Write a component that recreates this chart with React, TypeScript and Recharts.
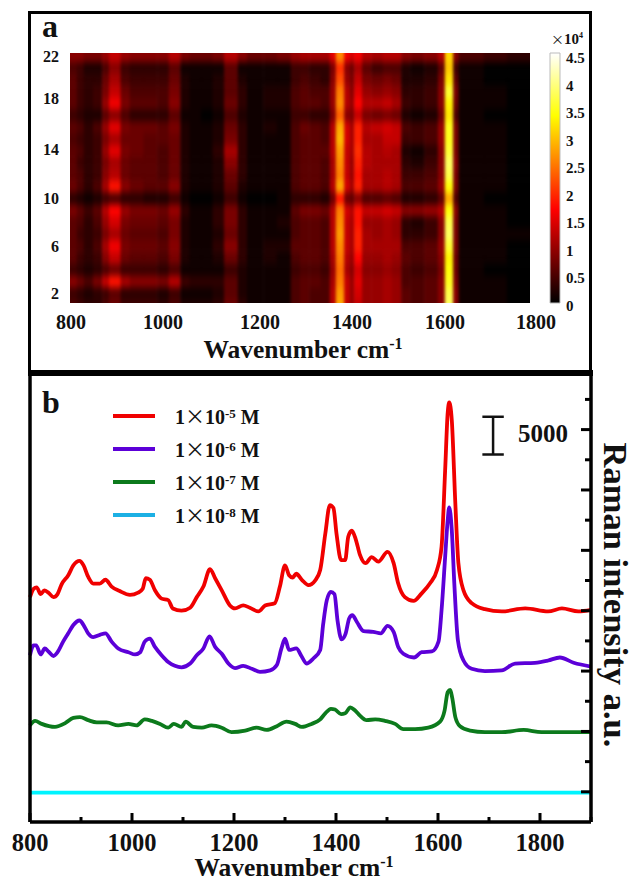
import { Bar, BarChart, Legend, Line, LineChart, ReferenceLine, Scatter, ScatterChart, XAxis, YAxis } from "recharts";

const FONT = "'Liberation Serif', serif";
const INK = "#111";

// panel a: column edges in cm-1, rows of intensity in units of 1000 counts
const heatEdges = [800, 815, 830, 850, 870, 885, 910, 930, 960, 990, 1015, 1040, 1060, 1085, 1110, 1135, 1165, 1185, 1220, 1250, 1280, 1300, 1320, 1345, 1365, 1378, 1396, 1408, 1418, 1435, 1455, 1480, 1500, 1520, 1540, 1570, 1600, 1615, 1633, 1645, 1700, 1750, 1800];
const row1 = [5, 4, 3, 3, 5, 7, 4, 4, 4, 3, 5, 2, 2, 2, 3, 7, 3, 1, 1, 1, 5, 6, 5, 5, 12, 28, 13, 10, 13, 10, 10, 11, 10, 6, 5, 6, 9, 38, 9, 1, 1, 0];
const row2 = [4, 3, 2, 3, 4, 6, 3, 3, 3, 2, 4, 1, 1, 1, 2, 6, 2, 1, 1, 1, 5, 6, 5, 5, 12, 27, 13, 10, 14, 10, 10, 11, 10, 6, 5, 6, 9, 37, 9, 1, 1, 0];
const row3 = [9, 7, 5, 8, 13, 18, 11, 9, 9, 8, 12, 4, 3, 3, 3, 6, 2, 1, 1, 1, 5, 6, 6, 5, 11, 25, 13, 10, 15, 10, 10, 11, 10, 5, 5, 6, 9, 35, 8, 1, 1, 0];
const row4 = [4, 3, 2, 3, 5, 7, 4, 4, 4, 3, 5, 1, 1, 1, 1, 4, 2, 1, 1, 1, 4, 5, 5, 4, 10, 24, 11, 9, 14, 9, 9, 10, 9, 5, 4, 5, 8, 34, 7, 1, 0, 0];
const row5 = [6, 4, 3, 4, 9, 13, 7, 6, 6, 5, 8, 2, 1, 1, 2, 7, 3, 1, 2, 1, 5, 6, 6, 5, 11, 25, 12, 10, 17, 10, 10, 11, 10, 6, 5, 6, 9, 33, 7, 1, 1, 0];
const row6 = [6, 5, 3, 5, 11, 16, 8, 7, 7, 6, 9, 2, 1, 1, 3, 9, 3, 1, 2, 2, 6, 6, 6, 5, 12, 26, 13, 11, 19, 11, 11, 11, 11, 5, 5, 6, 10, 36, 8, 1, 1, 0];
const row7 = [6, 4, 3, 4, 8, 11, 7, 6, 6, 5, 8, 2, 1, 1, 2, 7, 3, 1, 1, 1, 5, 6, 6, 5, 12, 27, 13, 11, 19, 11, 10, 11, 10, 3, 3, 4, 9, 38, 8, 1, 1, 1];
const row8 = [6, 5, 3, 5, 10, 14, 8, 7, 7, 6, 8, 2, 1, 1, 3, 8, 3, 1, 1, 2, 5, 6, 6, 5, 12, 26, 13, 11, 18, 10, 10, 11, 10, 3, 2, 4, 9, 37, 8, 1, 1, 0];
const row9 = [8, 6, 4, 6, 12, 17, 10, 8, 8, 7, 10, 3, 1, 1, 3, 8, 3, 1, 1, 1, 6, 8, 8, 7, 12, 25, 14, 12, 18, 13, 13, 14, 13, 9, 9, 10, 12, 34, 9, 1, 1, 0];
const row10 = [3, 2, 1, 2, 4, 5, 3, 3, 2, 2, 4, 1, 0, 0, 1, 4, 1, 0, 0, 1, 3, 3, 3, 2, 7, 18, 7, 6, 9, 5, 5, 6, 5, 2, 2, 3, 6, 28, 5, 1, 0, 0];
const row11 = [7, 5, 3, 5, 11, 18, 9, 7, 6, 6, 9, 2, 1, 1, 2, 6, 2, 1, 1, 1, 5, 6, 6, 5, 12, 28, 14, 11, 19, 11, 11, 12, 11, 5, 5, 6, 10, 34, 8, 1, 1, 0];
const row12 = [6, 5, 3, 4, 9, 12, 7, 6, 6, 5, 7, 2, 1, 1, 2, 7, 3, 1, 1, 1, 5, 6, 6, 5, 11, 25, 13, 10, 18, 11, 11, 12, 11, 4, 4, 5, 9, 37, 8, 1, 1, 0];
const row13 = [6, 4, 3, 4, 8, 11, 7, 6, 6, 5, 7, 2, 1, 1, 2, 9, 3, 1, 1, 1, 5, 6, 6, 5, 11, 26, 13, 10, 19, 12, 11, 11, 11, 3, 2, 4, 9, 38, 9, 1, 1, 0];
const row14 = [6, 5, 3, 4, 10, 15, 8, 7, 6, 5, 7, 2, 1, 1, 3, 11, 3, 1, 1, 1, 5, 6, 6, 6, 12, 27, 13, 11, 20, 12, 11, 12, 11, 2, 1, 3, 9, 36, 8, 1, 1, 0];
const row15 = [5, 4, 3, 4, 8, 11, 7, 7, 6, 6, 7, 2, 1, 1, 2, 8, 3, 1, 1, 1, 5, 6, 6, 5, 12, 29, 14, 11, 19, 11, 11, 13, 13, 4, 4, 5, 10, 35, 8, 1, 1, 0];
const row16 = [6, 5, 3, 5, 10, 15, 8, 7, 7, 6, 8, 2, 1, 1, 2, 7, 3, 1, 2, 1, 5, 7, 6, 5, 12, 28, 14, 11, 19, 12, 13, 14, 13, 5, 4, 5, 10, 35, 8, 1, 1, 0];
const row17 = [4, 3, 2, 2, 6, 9, 5, 3, 3, 3, 6, 1, 1, 0, 1, 5, 2, 1, 1, 1, 4, 4, 3, 3, 8, 23, 9, 8, 13, 8, 7, 8, 7, 2, 1, 2, 7, 32, 5, 1, 0, 0];
const row18 = [6, 4, 3, 4, 10, 16, 8, 6, 6, 5, 9, 2, 1, 1, 2, 7, 3, 1, 2, 2, 5, 6, 6, 5, 10, 26, 12, 10, 17, 12, 12, 13, 11, 4, 3, 4, 9, 33, 7, 1, 1, 0];
const row19 = [6, 4, 3, 4, 8, 13, 7, 5, 5, 5, 8, 2, 1, 1, 2, 6, 3, 1, 2, 2, 5, 6, 5, 5, 10, 25, 12, 9, 15, 10, 9, 10, 9, 3, 3, 4, 9, 36, 8, 1, 1, 0];
const row20 = [6, 4, 3, 3, 7, 11, 5, 4, 4, 4, 7, 2, 1, 1, 2, 6, 2, 1, 1, 1, 4, 5, 4, 3, 9, 22, 10, 8, 13, 8, 7, 8, 7, 2, 2, 3, 8, 32, 6, 1, 0, 0];
const row21 = [5, 4, 2, 2, 5, 9, 4, 3, 3, 3, 6, 1, 1, 1, 1, 6, 1, 1, 1, 1, 4, 4, 3, 3, 8, 20, 9, 7, 11, 6, 4, 5, 5, 2, 1, 2, 6, 30, 4, 1, 0, 0];
const row22 = [9, 9, 8, 8, 10, 13, 10, 9, 9, 9, 12, 8, 7, 7, 8, 12, 9, 7, 7, 8, 10, 11, 11, 11, 15, 26, 16, 14, 16, 12, 11, 12, 12, 9, 8, 9, 12, 31, 9, 5, 4, 3];
const heatRows = [row1, row2, row3, row4, row5, row6, row7, row8, row9, row10, row11, row12, row13, row14, row15, row16, row17, row18, row19, row20, row21, row22];
const heatXTicks = [800, 1000, 1200, 1400, 1600, 1800];
const heatYTicks = [2, 6, 10, 14, 18, 22];
const colorbarTicks = [0, 0.5, 1, 1.5, 2, 2.5, 3, 3.5, 4, 4.5];
const hotStops = [
  { at: 0, rgb: [0, 0, 0] },
  { at: 0.375, rgb: [255, 0, 0] },
  { at: 0.75, rgb: [255, 255, 0] },
  { at: 1, rgb: [255, 255, 255] },
];

// panel b: spectra, intensity in units of 100 counts
const wnRed = [800, 807, 813, 821, 828, 836, 846, 854, 862, 875, 885, 897, 905, 914, 924, 937, 948, 960, 976, 996, 1012, 1021, 1027, 1035, 1045, 1058, 1071, 1080, 1097, 1114, 1127, 1140, 1153, 1163, 1176, 1192, 1202, 1218, 1231, 1248, 1261, 1280, 1290, 1300, 1308, 1315, 1322, 1333, 1346, 1359, 1369, 1379, 1388, 1395, 1401, 1410, 1418, 1424, 1431, 1439, 1447, 1458, 1470, 1483, 1501, 1513, 1522, 1535, 1552, 1568, 1584, 1598, 1607, 1614, 1619, 1622, 1627, 1634, 1640, 1650, 1666, 1692, 1725, 1771, 1816, 1843, 1875, 1900];
const red = [298, 309, 311, 302, 307, 304, 298, 302, 315, 327, 340, 346, 340, 325, 316, 316, 321, 312, 306, 301, 304, 309, 323, 321, 307, 296, 294, 283, 280, 284, 298, 312, 335, 323, 307, 287, 283, 287, 284, 279, 287, 290, 312, 340, 327, 324, 329, 321, 314, 320, 334, 382, 420, 416, 382, 347, 347, 378, 386, 374, 354, 343, 351, 345, 358, 343, 316, 298, 293, 303, 316, 334, 365, 466, 542, 556, 533, 422, 343, 307, 290, 282, 279, 283, 279, 283, 279, 281];
const wnPurple = [800, 807, 812, 821, 829, 836, 846, 854, 865, 875, 885, 897, 905, 914, 924, 937, 948, 960, 973, 993, 1006, 1016, 1025, 1035, 1045, 1058, 1071, 1084, 1097, 1114, 1127, 1140, 1152, 1163, 1176, 1189, 1202, 1218, 1235, 1251, 1271, 1284, 1293, 1300, 1308, 1322, 1333, 1342, 1356, 1369, 1375, 1382, 1390, 1397, 1403, 1411, 1419, 1426, 1432, 1441, 1454, 1473, 1488, 1501, 1513, 1522, 1532, 1553, 1568, 1588, 1601, 1607, 1614, 1619, 1622, 1627, 1632, 1639, 1650, 1666, 1692, 1725, 1751, 1790, 1816, 1839, 1866, 1900];
const purple = [221, 234, 234, 222, 230, 226, 220, 225, 239, 250, 261, 267, 261, 250, 245, 248, 250, 239, 230, 225, 222, 225, 239, 243, 232, 221, 212, 207, 205, 210, 221, 230, 246, 232, 223, 210, 204, 207, 203, 199, 201, 208, 230, 243, 228, 230, 219, 210, 217, 228, 263, 294, 305, 302, 267, 242, 250, 270, 274, 265, 253, 252, 250, 260, 252, 232, 223, 218, 225, 226, 239, 281, 351, 400, 417, 387, 316, 241, 214, 203, 200, 201, 210, 211, 214, 218, 211, 206];
const wnGreen = [800, 810, 823, 849, 869, 885, 898, 914, 931, 950, 973, 993, 1009, 1025, 1039, 1055, 1071, 1082, 1097, 1105, 1120, 1137, 1156, 1176, 1195, 1222, 1244, 1264, 1284, 1303, 1320, 1333, 1352, 1369, 1379, 1390, 1398, 1410, 1418, 1428, 1437, 1447, 1460, 1477, 1496, 1516, 1532, 1555, 1581, 1604, 1613, 1619, 1624, 1628, 1634, 1643, 1663, 1692, 1725, 1768, 1803, 1849, 1900];
const green = [128, 134, 130, 126, 131, 138, 139, 135, 132, 132, 128, 130, 128, 136, 134, 130, 125, 130, 126, 133, 126, 125, 128, 125, 119, 121, 125, 122, 127, 133, 130, 126, 130, 136, 144, 150, 149, 143, 144, 152, 148, 141, 135, 136, 134, 130, 123, 123, 125, 133, 148, 172, 175, 164, 139, 127, 121, 119, 119, 122, 119, 119, 119];
const wnCyan = [800, 1100, 1400, 1700, 1900];
const cyan = [39, 39, 39, 39, 39];
const specXTicks = [800, 900, 1000, 1100, 1200, 1300, 1400, 1500, 1600, 1700, 1800, 1900];
const specYTicks = [0, 40, 80, 120, 160, 200, 240, 280, 320, 360, 400, 440, 480, 520, 560];
const scaleBarWn = 1708;
const scaleBarY = [487, 537];

const pair = (xs: number[], ys: number[]) => xs.map((wn, i) => ({ wn, y: ys[i] }));
const seriesList = [
  { exp: "-5", swatch: "#f00000", stroke: "#f00000", data: pair(wnRed, red) },
  { exp: "-6", swatch: "#5c00d8", stroke: "#5c00d8", data: pair(wnPurple, purple) },
  { exp: "-7", swatch: "#0c7a1c", stroke: "#0c7a1c", data: pair(wnGreen, green) },
  { exp: "-8", swatch: "#1cb0e4", stroke: "#00f4ff", data: pair(wnCyan, cyan) },
];

const heatCells = heatRows.flatMap((vals, r) =>
  vals.map((v, c) => ({
    wn: (heatEdges[c] + heatEdges[c + 1]) / 2,
    span: heatEdges[c + 1] - heatEdges[c],
    first: c === 0,
    last: c === vals.length - 1,
    row: r + 1,
    v,
  })),
);

const HEAT_LEFT = 70;
const HEAT_TOP = 53;
const HEAT_W = 460;
const HEAT_H = 250;
const PX_PER_WN = HEAT_W / 1000;
const ROW_H = 11.87;
// the cell layer is drawn wider than the image, so the blur does not fade at the edges
const CELL_WN = [780, 1820];
const CELL_ROWS = [0, 24];
const CELL_W = (CELL_WN[1] - CELL_WN[0]) * PX_PER_WN;
const CELL_H = (CELL_ROWS[1] - CELL_ROWS[0]) * ROW_H;

function hot(v: number) {
  const t = Math.min(1, v / 45);
  const i = hotStops.findIndex((s) => s.at >= t);
  if (i <= 0) return "rgb(0,0,0)";
  const a = hotStops[i - 1];
  const b = hotStops[i];
  const k = (t - a.at) / (b.at - a.at);
  const c = a.rgb.map((x, j) => Math.round(x + (b.rgb[j] - x) * k));
  return `rgb(${c[0]},${c[1]},${c[2]})`;
}

function HeatCell(p: any) {
  const { span, first, last, row, v } = p.payload;
  const w = span * PX_PER_WN;
  const padL = first ? 10 : 0;
  const padR = last ? 10 : 0;
  const padB = row === 1 ? 12 : 0;
  const padT = row === 22 ? 12 : 0;
  return (
    <rect
      x={p.cx - w / 2 - 0.3 - padL}
      y={p.cy - ROW_H / 2 - 0.3 - padT}
      width={w + 0.6 + padL + padR}
      height={ROW_H + 0.6 + padT + padB}
      fill={hot(v)}
    />
  );
}

// tick labels in the figure sit a little off the image scale
const heatXShift: Record<number, number> = { 800: 1, 1000: 1, 1200: 6, 1400: 6, 1600: 7, 1800: 6 };
const heatYShift: Record<number, number> = { 18: -5, 14: -2 };

function HeatXTick({ x, y, payload }: any) {
  return (
    <text x={x + heatXShift[payload.value]} y={y + 26} textAnchor="middle" fontFamily={FONT} fontWeight={700} fontSize={20} fill={INK}>
      {payload.value}
    </text>
  );
}

function HeatYTick({ x, y, payload }: any) {
  return (
    <text x={x} y={y + 6 + (heatYShift[payload.value] || 0)} textAnchor="end" fontFamily={FONT} fontWeight={700} fontSize={16} fill={INK}>
      {payload.value}
    </text>
  );
}

function BarTick({ x, y, payload }: any) {
  return (
    <text x={x} y={y + 8} fontFamily={FONT} fontWeight={700} fontSize={15} fill={INK}>
      {payload.value}
    </text>
  );
}

function WnTitle({ tx, ty }: { tx: number; ty: number }) {
  return (
    <text x={tx} y={ty} textAnchor="middle" fontFamily={FONT} fontWeight={700} fontSize={25.5} fill={INK}>
      Wavenumber cm
      <tspan dy={-9} fontSize={16}>-1</tspan>
    </text>
  );
}

function SpecXTick({ x, y, payload }: any) {
  const major = payload.value % 200 === 0;
  return (
    <g>
      <line x1={x} x2={x} y1={y} y2={y - (major ? 9 : 5)} stroke="#000" strokeWidth={3} />
      {major && (
        <text x={x} y={y + 29} textAnchor="middle" fontFamily={FONT} fontWeight={700} fontSize={24.5} fill={INK}>
          {payload.value}
        </text>
      )}
    </g>
  );
}

function SpecYTick({ x, y, payload }: any) {
  if (payload.value === 0) return <g />;
  const major = payload.value % 80 === 40;
  return <line x1={x} x2={x - (major ? 10 : 6)} y1={y} y2={y} stroke="#000" strokeWidth={3} />;
}

function ConcLegend() {
  return (
    <div style={{ fontFamily: FONT, fontWeight: 700, fontSize: 20, color: INK }}>
      {seriesList.map((s) => (
        <div key={s.exp} style={{ display: "flex", alignItems: "center", height: 33 }}>
          <span style={{ width: 42, height: 4, background: s.swatch, marginRight: 20 }} />
          <span style={{ whiteSpace: "pre" }}>
            1<span style={{ fontFamily: "'Noto Sans CJK SC'", fontWeight: 400 }}>×</span>10
            <span style={{ fontSize: 13, verticalAlign: 6 }}>{s.exp}</span> M
          </span>
        </div>
      ))}
    </div>
  );
}

export default function App() {
  return (
    <div style={{ position: "absolute", left: 0, top: 0, width: 635, height: 882, background: "#fff", overflow: "hidden" }}>
      <svg width={0} height={0} style={{ position: "absolute" }}>
        <defs>
          <filter id="heatBlur" colorInterpolationFilters="sRGB">
            <feGaussianBlur stdDeviation="1.7 3.6" />
          </filter>
          <linearGradient id="hotBar" x1="0" y1="1" x2="0" y2="0">
            {hotStops.map((s) => (
              <stop key={s.at} offset={s.at} stopColor={`rgb(${s.rgb.join(",")})`} />
            ))}
          </linearGradient>
        </defs>
      </svg>

      {/* panel b */}
      <div style={{ position: "absolute", left: 0, top: 0 }}>
        <LineChart width={635} height={882} margin={{ top: 373, right: 0, bottom: 20, left: 0 }}>
          <XAxis
            type="number"
            dataKey="wn"
            domain={[800, 1900]}
            ticks={specXTicks}
            interval={0}
            axisLine={{ stroke: "#000", strokeWidth: 3.5 }}
            tickLine={false}
            tickSize={0}
            tickMargin={0}
            height={40}
            tick={SpecXTick}
            label={<WnTitle tx={294} ty={876} />}
          />
          <YAxis yAxisId="left" domain={[0, 595]} tick={false} tickLine={false} width={30} axisLine={{ stroke: "#000", strokeWidth: 3.5 }} />
          <YAxis
            yAxisId="right"
            orientation="right"
            domain={[0, 595]}
            ticks={specYTicks}
            interval={0}
            width={44}
            axisLine={{ stroke: "#000", strokeWidth: 3.5 }}
            tickLine={false}
            tickSize={0}
            tickMargin={0}
            tick={SpecYTick}
          />
          {seriesList.map((s) => (
            <Line
              key={s.exp}
              yAxisId="right"
              data={s.data}
              dataKey="y"
              type="monotone"
              stroke={s.stroke}
              strokeWidth={3.8}
              dot={false}
              legendType="none"
              isAnimationActive={false}
            />
          ))}
          <ReferenceLine yAxisId="right" segment={[{ x: scaleBarWn, y: scaleBarY[0] }, { x: scaleBarWn, y: scaleBarY[1] }]} stroke="#111" strokeWidth={2.5} />
          <ReferenceLine yAxisId="right" segment={[{ x: scaleBarWn - 21, y: scaleBarY[0] }, { x: scaleBarWn + 21, y: scaleBarY[0] }]} stroke="#111" strokeWidth={2.5} />
          <ReferenceLine yAxisId="right" segment={[{ x: scaleBarWn - 21, y: scaleBarY[1] }, { x: scaleBarWn + 21, y: scaleBarY[1] }]} stroke="#111" strokeWidth={2.5} />
          <Legend layout="vertical" align="center" verticalAlign="middle" content={<ConcLegend />} wrapperStyle={{ left: 113, top: 399, width: 200, bottom: "auto" }} />
          <text x={518} y={442} fontFamily={FONT} fontWeight={700} fontSize={25} fill={INK}>5000</text>
          <text x={604} y={595} transform="rotate(90 604 595)" textAnchor="middle" fontFamily={FONT} fontWeight={700} fontSize={34.5} fill={INK}>
            Raman intensity a.u.
          </text>
          <text x={42} y={413} fontFamily={FONT} fontWeight={700} fontSize={32} fill={INK}>b</text>
        </LineChart>
      </div>

      {/* panel a image: blurred cell layer clipped to the image area */}
      <div style={{ position: "absolute", left: HEAT_LEFT, top: HEAT_TOP, width: HEAT_W, height: HEAT_H, overflow: "hidden" }}>
        <div style={{ position: "absolute", left: -9.2, top: -21, filter: "url(#heatBlur)" }}>
          <ScatterChart width={CELL_W} height={CELL_H} margin={{ top: 0, right: 0, bottom: 0, left: 0 }}>
            <XAxis type="number" dataKey="wn" domain={CELL_WN} hide />
            <YAxis type="number" dataKey="row" domain={CELL_ROWS} hide />
            <Scatter data={heatCells} shape={HeatCell} isAnimationActive={false} />
          </ScatterChart>
        </div>
      </div>

      {/* panel a axes */}
      <div style={{ position: "absolute", left: 0, top: 0 }}>
        <ScatterChart width={635} height={372} margin={{ top: HEAT_TOP, right: 105, bottom: 39, left: 40 }}>
          <XAxis
            type="number"
            dataKey="wn"
            domain={[800, 1800]}
            ticks={heatXTicks}
            interval={0}
            axisLine={false}
            tickLine={false}
            tickSize={0}
            tickMargin={0}
            height={30}
            tick={HeatXTick}
            label={<WnTitle tx={303} ty={358} />}
          />
          <YAxis
            type="number"
            dataKey="row"
            domain={[1.17, 22.23]}
            ticks={heatYTicks}
            interval={0}
            axisLine={false}
            tickLine={false}
            tickSize={0}
            tickMargin={0}
            width={30}
            tick={(p: any) => <HeatYTick {...p} x={59} />}
          />
          <Scatter data={[{ wn: 800, row: 2 }, { wn: 1800, row: 22 }]} shape={() => <g />} isAnimationActive={false} />
          <text x={42} y={37} fontFamily={FONT} fontWeight={700} fontSize={32} fill={INK}>a</text>
          <text x={551} y={44} fontFamily={FONT} fontSize={15} fontWeight={700} fill={INK}>
            <tspan fontFamily="'Noto Sans CJK SC'" fontWeight={400} fontSize={13}>×</tspan>10
            <tspan dy={-6} fontSize={8}>4</tspan>
          </text>
        </ScatterChart>
      </div>

      {/* panel a colorbar */}
      <div style={{ position: "absolute", left: 520, top: 43 }}>
        <BarChart width={90} height={270} data={[{ name: "scale", top: 4.54 }]} barCategoryGap={0} margin={{ top: 10, right: 0, bottom: 10, left: 30 }}>
          <XAxis dataKey="name" hide />
          <YAxis orientation="right" domain={[0, 4.54]} ticks={colorbarTicks} interval={0} width={50} axisLine={false} tickLine={false} tickSize={0} tickMargin={6} tick={BarTick} />
          <Bar dataKey="top" fill="url(#hotBar)" stroke="#bbb" strokeWidth={1} isAnimationActive={false} />
        </BarChart>
      </div>

      {/* panel frame */}
      <div style={{ position: "absolute", left: 28, top: 11, width: 564, height: 362, boxSizing: "border-box", border: "3px solid #000", borderBottom: "none" }} />
      <div style={{ position: "absolute", left: 28, top: 370, width: 565, height: 6, background: "#000" }} />
    </div>
  );
}
